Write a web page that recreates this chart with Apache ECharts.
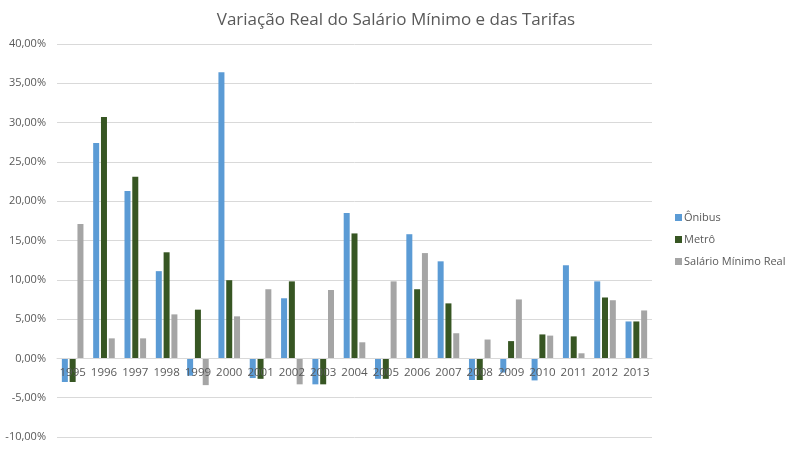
<!DOCTYPE html>
<html>
<head>
<meta charset="utf-8">
<script src="https://cdn.jsdelivr.net/npm/echarts@6/dist/echarts.min.js"></script>
<style>html,body{margin:0;padding:0;background:#fff;}#c{width:792px;height:452px;}</style>
</head>
<body>
<div id="c"></div>
<script>
const categories = ['1995','1996','1997','1998','1999','2000','2001','2002','2003','2004','2005','2006','2007','2008','2009','2010','2011','2012','2013'];
const onibus = [-3.0, 27.4, 21.3, 11.1, -2.2, 36.4, -2.5, 7.65, -3.3, 18.5, -2.6, 15.8, 12.35, -2.75, -1.8, -2.8, 11.85, 9.8, 4.7];
const metro = [-3.0, 30.7, 23.1, 13.5, 6.2, 9.95, -2.6, 9.8, -3.3, 15.9, -2.6, 8.8, 7.0, -2.75, 2.2, 3.05, 2.8, 7.75, 4.7];
const salario = [17.1, 2.55, 2.55, 5.6, -3.4, 5.35, 8.8, -3.3, 8.7, 2.05, 9.8, 13.4, 3.2, 2.4, 7.5, 2.9, 0.65, 7.4, 6.1];
const seriesNames = ['Ônibus', 'Metrô', 'Salário Mínimo Real'];
const colors = ['#5B9BD5', '#375623', '#A5A5A5'];
const yTicks = { min: -10, max: 40, interval: 5 };

const font = '"Segoe UI", "Open Sans", "Noto Sans", sans-serif';
const gridTop = 44, gridBottom = 15, H = 452;
const plotH = H - gridTop - gridBottom;
const zeroOffset = -plotH * (0 - yTicks.min) / (yTicks.max - yTicks.min);
const chart = echarts.init(document.getElementById('c'));
const fmt = v => v.toFixed(2).replace('.', ',') + '%';
chart.setOption({
  animation: false,
  color: colors,
  title: {
    text: 'Variação Real do Salário Mínimo e das Tarifas',
    left: 'center', top: 7,
    textStyle: { fontFamily: font, fontSize: 17, fontWeight: 'normal', color: '#595959' }
  },
  legend: {
    orient: 'vertical', left: 670, top: 207,
    itemWidth: 7, itemHeight: 7, itemGap: 11,
    icon: 'rect',
    textStyle: { fontFamily: font, fontSize: 11, color: '#595959', padding: [0,0,0,-3] },
    data: seriesNames
  },
  grid: { left: 57, right: 140, top: gridTop, bottom: gridBottom, outerBoundsMode: 'none', containLabel: false },
  xAxis: {
    type: 'category', data: categories, position: 'bottom', offset: zeroOffset, z: 5,
    axisLine: { onZero: false, lineStyle: { color: '#D9D9D9' } },
    axisTick: { show: false },
    axisLabel: { fontFamily: font, fontSize: 11.5, color: '#595959', margin: 8, interval: 0 }
  },
  yAxis: {
    type: 'value', min: yTicks.min, max: yTicks.max, interval: yTicks.interval,
    axisLine: { show: false }, axisTick: { show: false },
    splitLine: { lineStyle: { color: '#D9D9D9' } },
    axisLabel: { fontFamily: font, fontSize: 11, color: '#595959', formatter: fmt, margin: 11 }
  },
  series: [
    { name: seriesNames[0], type: 'bar', data: onibus, barWidth: 6, barGap: '30%' },
    { name: seriesNames[1], type: 'bar', data: metro, barWidth: 6, barGap: '30%' },
    { name: seriesNames[2], type: 'bar', data: salario, barWidth: 6, barGap: '30%' }
  ]
});
</script>
</body>
</html>
